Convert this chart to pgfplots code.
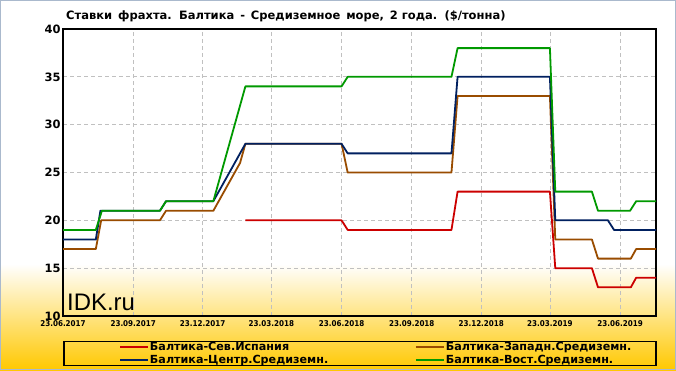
\documentclass[border=0pt]{standalone}
\usepackage{fontspec}
\setmainfont{DejaVu Sans Condensed}
\newfontfamily\dvs{DejaVu Sans}
\newfontfamily\arialf{Liberation Sans}
\usepackage{pgfplots}
\pgfplotsset{compat=1.18}
\definecolor{cred}{RGB}{204,0,0}
\definecolor{cbrown}{RGB}{153,76,0}
\definecolor{cnavy}{RGB}{0,32,96}
\definecolor{cgreen}{RGB}{0,153,0}
\definecolor{gold}{RGB}{255,200,0}
\definecolor{gridc}{RGB}{192,192,192}
\definecolor{frame}{RGB}{170,185,205}
\begin{document}
\begin{tikzpicture}[x=1bp,y=1bp]
\fill[white] (0,0) rectangle (676,370);
\shade[top color=white,bottom color=gold] (0,0) rectangle (676,106);
\path[use as bounding box] (0,0) rectangle (676,370);
\draw[frame,line width=1bp] (0.5,0.5) rectangle (675.5,369.5);
\node[anchor=west,inner sep=0pt,font=\dvs\bfseries\fontsize{11.55}{14}\selectfont] at (66,354) {Ставки\, фрахта.\, Балтика\, -\, Средиземное\, море,\, 2 года.\, (\$/тонна)};
\node[anchor=base west,inner sep=0pt,font=\arialf\fontsize{24}{28}\selectfont] at (67,60) {IDK.ru};
\begin{axis}[
  at={(63bp,54bp)}, anchor=south west,
  width=593bp, height=287bp, scale only axis,
  xmin=0, xmax=777, ymin=10, ymax=40,
  axis line style={line width=1.2bp},
  xtick={0,92,183,273,365,457,548,638,730},
  xticklabels={23.06.2017,23.09.2017,23.12.2017,23.03.2018,23.06.2018,23.09.2018,23.12.2018,23.03.2019,23.06.2019},
  ytick={10,15,20,25,30,35,40},
  major tick length=0pt,
  xticklabel style={font=\bfseries\fontsize{8}{9}\selectfont, yshift=-1.5bp},
  yticklabel style={font=\dvs\bfseries\fontsize{11.5}{13}\selectfont, xshift=1bp},
  /pgf/number format/assume math mode=true,
  grid=major,
  major grid style={gridc, dash pattern=on 4bp off 3bp, line width=0.8bp},
  legend columns=2,
  legend style={draw=none, fill=none, at={(axis description cs:0.0944,-0.088)}, anchor=north west,
    font=\dvs\bfseries\fontsize{11.2}{12}\selectfont, inner sep=0pt, row sep=0.5bp,
    nodes={inner sep=1bp}},
  legend cell align=left,
  legend image code/.code={\draw[#1] (0bp,0bp) -- (28bp,0bp);},
  every axis plot/.append style={line width=1.8bp, line join=round},
]
\addplot[cred] coordinates {(239,20) (365,20) (373,19) (509,19) (517,23) (638,23) (645,15) (693,15) (701,13) (744,13) (751,14) (777,14)};
\addlegendentry{\makebox[264bp][l]{Балтика-Сев.Испания}}
\addplot[cbrown] coordinates {(0,17) (43,17) (50,20) (127,20) (135,21) (197,21) (218,24) (232,26) (239,28) (365,28) (373,25) (509,25) (517,33) (638,33) (645,18) (693,18) (701,16) (744,16) (751,17) (777,17)};
\addlegendentry{Балтика-Западн.Средиземн.}
\addplot[cnavy] coordinates {(0,18) (43,18) (49,21) (127,21) (135,22) (197,22) (211,24) (225,26) (239,28) (365,28) (373,27) (509,27) (517,35) (638,35) (645,20) (714,20) (722,19) (777,19)};
\addlegendentry{\makebox[264bp][l]{Балтика-Центр.Средиземн.}}
\addplot[cgreen] coordinates {(0,19) (43,19) (51,21) (127,21) (135,22) (197,22) (211,26) (225,30) (239,34) (365,34) (373,35) (509,35) (517,38) (638,38) (645,23) (693,23) (701,21) (743,21) (751,22) (777,22)};
\addlegendentry{Балтика-Вост.Средиземн.}
\end{axis}
\draw[line width=1.2bp] (64,4.5) rectangle (656,28.5);
\end{tikzpicture}
\end{document}
